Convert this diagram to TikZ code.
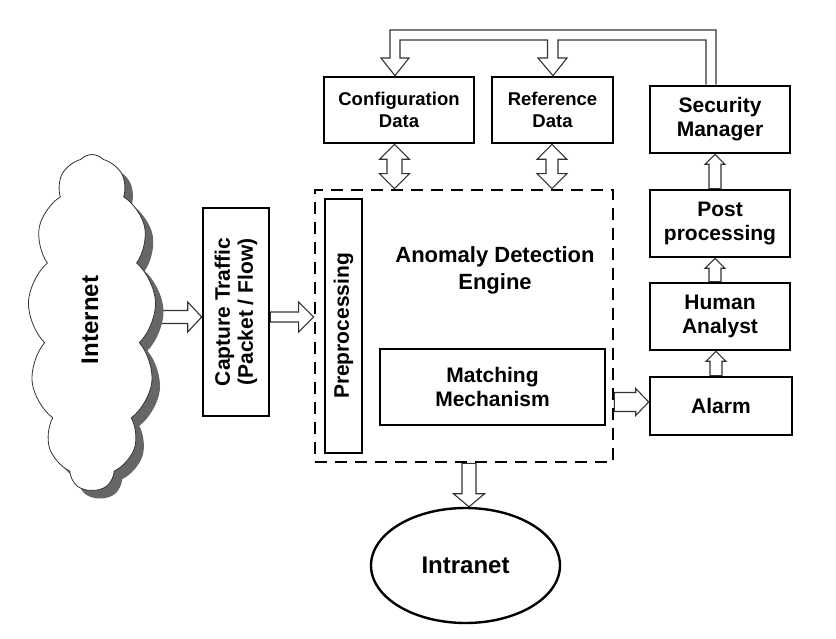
\documentclass[tikz,border=0pt]{standalone}
\usepackage{fontspec}
\setmainfont{Liberation Sans}
\usetikzlibrary{shapes.symbols,shapes.geometric,shadows,calc,backgrounds}
\tikzset{
  boxnode/.style={draw=black, line width=2.6pt, align=center, inner sep=0pt, font=\bfseries\fontsize{21}{24}\selectfont},
  smallbox/.style={boxnode, font=\bfseries\fontsize{18.5}{21.5}\selectfont},
  barr/.style={draw=black!80, fill=white, line width=1.1pt, line join=miter},
}
\newcommand{\rarr}[5]{%
 \draw[barr] let \p1=(#1), \p2=(#2) in (\x1,\y1+#3pt) -- (\x2-#5pt,\y1+#3pt) -- (\x2-#5pt,\y1+#4pt) -- (\x2,\y1) -- (\x2-#5pt,\y1-#4pt) -- (\x2-#5pt,\y1-#3pt) -- (\x1,\y1-#3pt) -- cycle;}
\newcommand{\uarr}[5]{%
 \draw[barr] let \p1=(#1), \p2=(#2) in (\x1-#3pt,\y1) -- (\x1-#3pt,\y2-#5pt) -- (\x1-#4pt,\y2-#5pt) -- (\x1,\y2) -- (\x1+#4pt,\y2-#5pt) -- (\x1+#3pt,\y2-#5pt) -- (\x1+#3pt,\y1) -- cycle;}
\newcommand{\darr}[5]{%
 \draw[barr] let \p1=(#1), \p2=(#2) in (\x1-#3pt,\y1) -- (\x1-#3pt,\y2+#5pt) -- (\x1-#4pt,\y2+#5pt) -- (\x1,\y2) -- (\x1+#4pt,\y2+#5pt) -- (\x1+#3pt,\y2+#5pt) -- (\x1+#3pt,\y1) -- cycle;}
\newcommand{\dblarr}[5]{%
 \draw[barr] let \p1=(#1), \p2=(#2) in (\x1,\y1) -- (\x1+#4pt,\y1-#5pt) -- (\x1+#3pt,\y1-#5pt) -- (\x1+#3pt,\y2+#5pt) -- (\x1+#4pt,\y2+#5pt) -- (\x1,\y2) -- (\x1-#4pt,\y2+#5pt) -- (\x1-#3pt,\y2+#5pt) -- (\x1-#3pt,\y1-#5pt) -- (\x1-#4pt,\y1-#5pt) -- cycle;}
\begin{document}
\begin{tikzpicture}[x=1pt,y=1pt]
\useasboundingbox (0,0) rectangle (836,638);
% cloud
\node[cloud, draw=black!80, line width=0.8pt, fill=white, cloud puffs=13, cloud puff arc=95, aspect=0.4, cloud ignores aspect, minimum width=128pt, minimum height=336pt, drop shadow={shadow xshift=8pt, shadow yshift=-8pt, fill=black!60, opacity=1}] (cloud) at (92,315.5) {};
\node[rotate=90, font=\bfseries\fontsize{24}{28}\selectfont] (inet) at (90,318) {Internet};
% capture
\node[boxnode, minimum width=66pt, minimum height=208pt] (cap) at (236,326) {};
\node[rotate=90, align=center, font=\bfseries\fontsize{21}{23}\selectfont] (captxt) at (cap.center) {Capture Traffic\\(Packet / Flow)};
% dashed engine box
\node[draw=black, line width=2.8pt, dash pattern=on 12pt off 8pt, minimum width=298pt, minimum height=272pt, inner sep=0pt] (ade) at (464,312) {};
\node[align=center, font=\bfseries\fontsize{22}{27}\selectfont] (adelbl) at (495,368) {Anomaly Detection\\Engine};
\node[boxnode, minimum width=37pt, minimum height=254pt] (pre) at (343.5,312) {};
\node[rotate=90, font=\bfseries\fontsize{21}{24}\selectfont] (pretxt) at (pre.center) {Preprocessing};
\node[boxnode, minimum width=225pt, minimum height=76pt] (match) at (492.5,251) {Matching\\Mechanism};
% top boxes
\node[smallbox, minimum width=150pt, minimum height=66pt] (cfg) at (399,528) {Configuration\\Data};
\node[smallbox, minimum width=121pt, minimum height=66pt] (ref) at (552.5,528) {Reference\\Data};
% right column
\node[boxnode, minimum width=140pt, minimum height=67pt] (sm) at (720,518.5) {Security\\Manager};
\node[boxnode, minimum width=140pt, minimum height=67pt] (pp) at (720,414.5) {Post\\processing};
\node[boxnode, minimum width=140pt, minimum height=67pt] (ha) at (720,321.5) {Human\\Analyst};
\node[boxnode, minimum width=142pt, minimum height=58pt] (alarm) at (721,232) {Alarm};
% intranet
\node[ellipse, draw=black, line width=2.4pt, minimum width=189pt, minimum height=115pt, inner sep=0pt, font=\bfseries\fontsize{24}{28}\selectfont] (intra) at (465.5,72.5) {Intranet};
% connectors
\coordinate (c1) at ($(cloud.center -| 157,0)+(0,5.5)$);
\coordinate (c3) at ($(ade.east |- alarm.west)+(0,4)$);
\begin{scope}[on background layer]
\rarr{c1}{cap.west}{6.5}{15}{14}
\rarr{[yshift=-5pt]cap.east}{ade.west}{5}{15}{15}
\rarr{c3}{alarm.west}{9.5}{13.5}{13}
\uarr{[xshift=-5pt]alarm.north}{ha.south}{6}{10}{10}
\uarr{[xshift=-5pt]ha.north}{pp.south}{6}{10}{10}
\uarr{[xshift=-5pt]pp.north}{sm.south}{6}{10}{10}
\darr{[xshift=5pt]ade.south}{intra.north}{7}{15.5}{13}
\dblarr{[xshift=-4.5pt]cfg.south}{ade.north}{7.5}{15}{15}
\dblarr{[xshift=-0.5pt]ref.south}{ade.north}{6}{15}{15}
\draw[barr] let \p1=(sm.north), \p2=(cfg.north), \p3=(ref.north) in
 (\x1-4pt,\y1) -- (\x1-4pt,608) -- (\x2-9pt,608) -- (\x2-9pt,580) -- (\x2-18pt,580) -- (\x2-4pt,\y2) -- (\x2+10pt,580) -- (\x2+1pt,580) -- (\x2+1pt,598) -- (\x3-5pt,598) -- (\x3-5pt,580) -- (\x3-14.5pt,580) -- (\x3+0.5pt,\y3) -- (\x3+14.5pt,580) -- (\x3+5.5pt,580) -- (\x3+5.5pt,598) -- (\x1-14pt,598) -- (\x1-14pt,\y1);
\end{scope}
\end{tikzpicture}
\end{document}
